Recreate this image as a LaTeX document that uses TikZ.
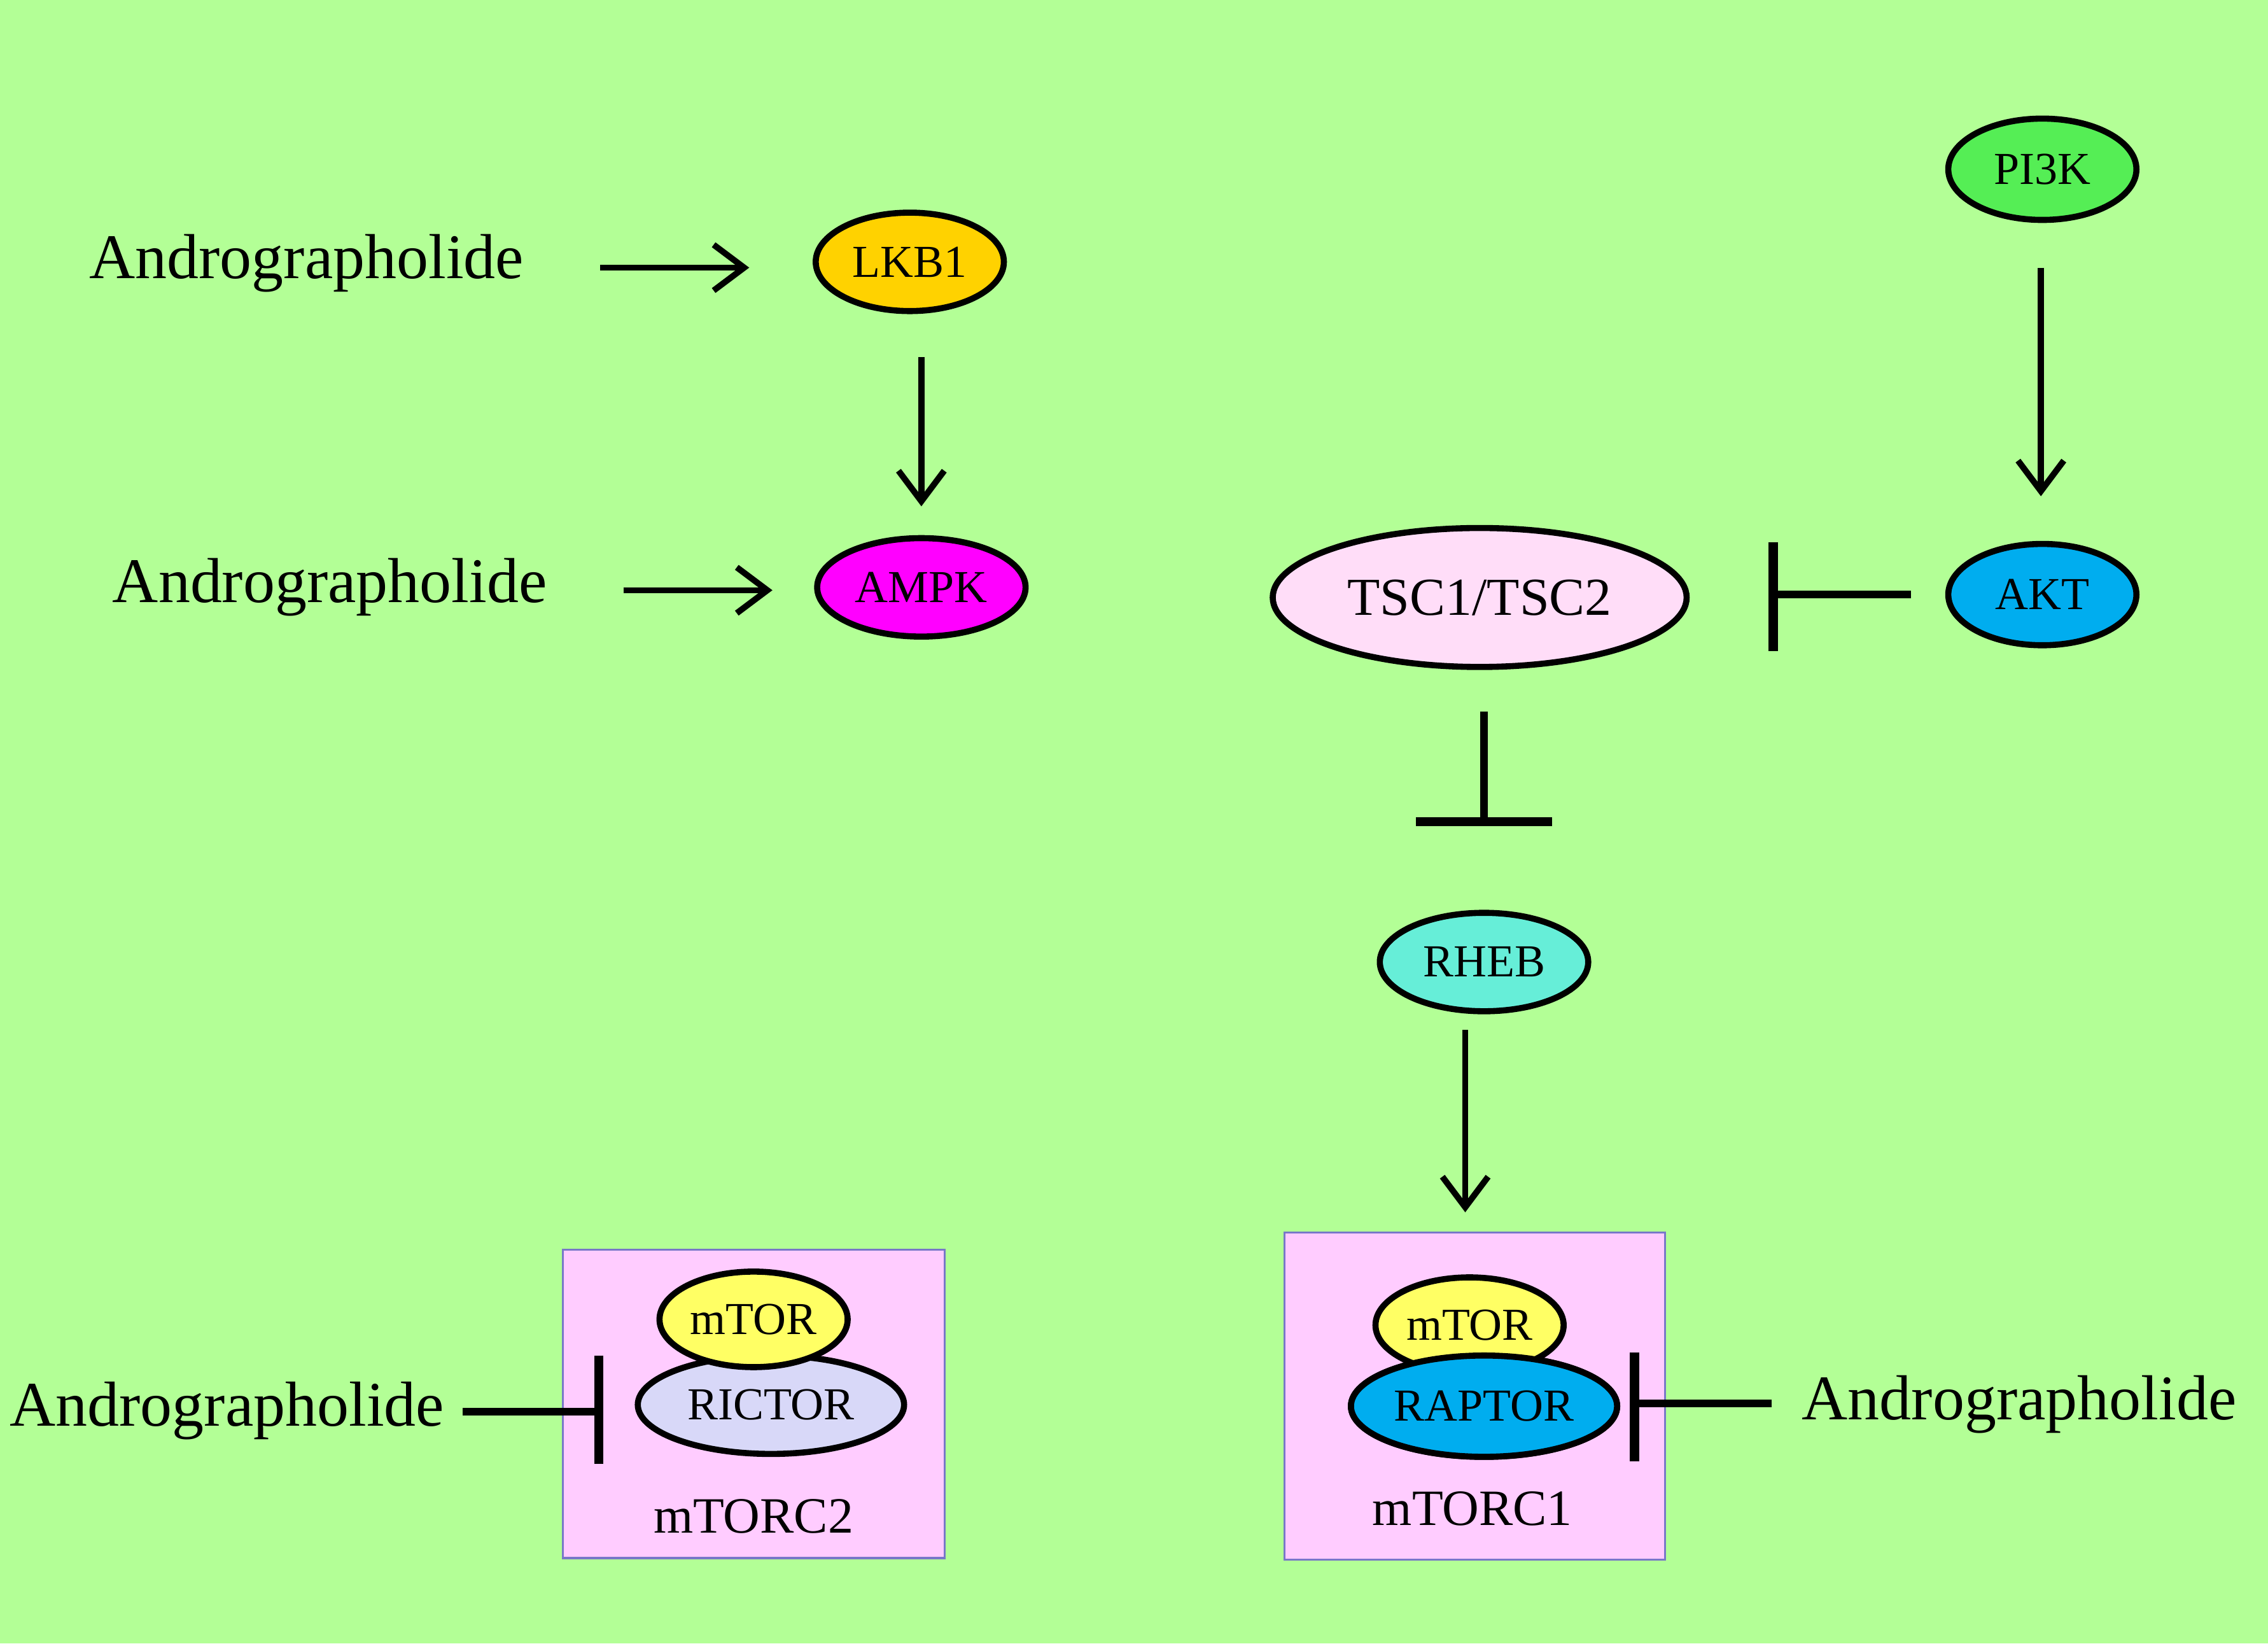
\documentclass[tikz,border=0pt]{standalone}
\usepackage{fontspec}
\setmainfont{Liberation Serif}
\usetikzlibrary{shapes.geometric,arrows.meta}
\definecolor{bg}{HTML}{B3FF96}
\begin{document}
\begin{tikzpicture}[x=0.01cm,y=-0.01cm,
  el/.style={ellipse,draw=black,line width=1.2pt,inner sep=0pt,font=\fontsize{9}{10}\selectfont},
  lbl/.style={font=\fontsize{12.5}{14}\selectfont},
  act/.style={line width=1.2pt,-{Straight Barb[length=6pt,width=9pt,line width=1.2pt]}},
  inh/.style={line width=1.5pt,-{Bar[width=22pt,line width=1.8pt]}},
  box/.style={draw={rgb,255:red,120;green,120;blue,200},line width=0.4pt,fill={rgb,255:red,255;green,204;blue,255}}]
\fill[bg] (0,0) rectangle (1568,1136);
\useasboundingbox (0,0) rectangle (1568,1136);
% boxes
\draw[box] (389,864) rectangle (653,1077);
\draw[box] (888,852) rectangle (1151,1078);
% text labels
\node[lbl] (a1) at (212,182) {Andrographolide};
\node[lbl] (a2) at (228,406) {Andrographolide};
\node[lbl] (a3) at (157,975) {Andrographolide};
\node[lbl] (a4) at (1396,971) {Andrographolide};
% ellipses
\node[el,fill={rgb,255:red,255;green,210;blue,0},minimum width=130\pgflinewidth,minimum width=1.3cm,minimum height=0.68cm] (lkb) at (629,181) {LKB1};
\node[el,fill={rgb,255:red,255;green,0;blue,255},minimum width=1.44cm,minimum height=0.68cm] (ampk) at (637,406) {AMPK};
\node[el,fill={rgb,255:red,85;green,238;blue,85},minimum width=1.3cm,minimum height=0.7cm] (pi3k) at (1412,117) {PI3K};
\node[el,fill=cyan,minimum width=1.3cm,minimum height=0.7cm] (akt) at (1412,411) {AKT};
\node[el,fill={rgb,255:red,255;green,221;blue,248},minimum width=2.86cm,minimum height=0.96cm,font=\fontsize{10.5}{12}\selectfont] (tsc) at (1023,413) {TSC1/TSC2};
\node[el,fill={rgb,255:red,102;green,238;blue,216},minimum width=1.44cm,minimum height=0.68cm] (rheb) at (1026,665) {RHEB};
% mTORC2
\node[el,fill={rgb,255:red,216;green,216;blue,248},minimum width=1.84cm,minimum height=0.68cm] (rictor) at (533,971) {RICTOR};
\node[el,fill={rgb,255:red,255;green,255;blue,100},minimum width=1.3cm,minimum height=0.66cm] (mtor2) at (521,912) {mTOR};
\node[font=\fontsize{10}{12}\selectfont] (c2) at (521,1048) {mTORC2};
% mTORC1
\node[el,fill=cyan,minimum width=1.84cm,minimum height=0.7cm] (raptor) at (1026,972) {RAPTOR};
\node[el,fill={rgb,255:red,255;green,255;blue,100},minimum width=1.3cm,minimum height=0.66cm] (mtor1) at (1016,916) {mTOR};
\draw[el,fill=cyan] (raptor.center) ellipse [x radius=92,y radius=35];
\node[font=\fontsize{9}{10}\selectfont] at (raptor.center) {RAPTOR};
\node[font=\fontsize{10}{12}\selectfont] (c1) at (1018,1043) {mTORC1};
% anchors
\coordinate (p1) at (415,185); \coordinate (q1) at (518,185);
\coordinate (p2) at (431,408); \coordinate (q2) at (534,408);
\coordinate (p3) at (637,247); \coordinate (q3) at (637,350);
\coordinate (p4) at (1411,185); \coordinate (q4) at (1411,343);
\coordinate (p5) at (1321,411); \coordinate (q5) at (1226,411);
\coordinate (p6) at (1026,492); \coordinate (q6) at (1026,568);
\coordinate (p7) at (1013,712); \coordinate (q7) at (1013,838);
\coordinate (p8) at (1225,970); \coordinate (q8) at (1130,970);
\coordinate (p9) at (320,976); \coordinate (q9) at (414,976);
\draw[act] (p1) -- (q1);
\draw[act] (p2) -- (q2);
\draw[act] (p3) -- (q3);
\draw[act] (p4) -- (q4);
\draw[act] (p7) -- (q7);
\draw[line width=1.5pt] (p5) -- (q5); \draw[line width=1.8pt] (1226,375) -- (1226,450);
\draw[line width=1.5pt] (p6) -- (q6); \draw[line width=1.8pt] (979,568) -- (1073,568);
\draw[line width=1.5pt] (p8) -- (q8); \draw[line width=1.8pt] (1130,935) -- (1130,1010);
\draw[line width=1.5pt] (p9) -- (q9); \draw[line width=1.8pt] (414,937) -- (414,1012);
\end{tikzpicture}
\end{document}
